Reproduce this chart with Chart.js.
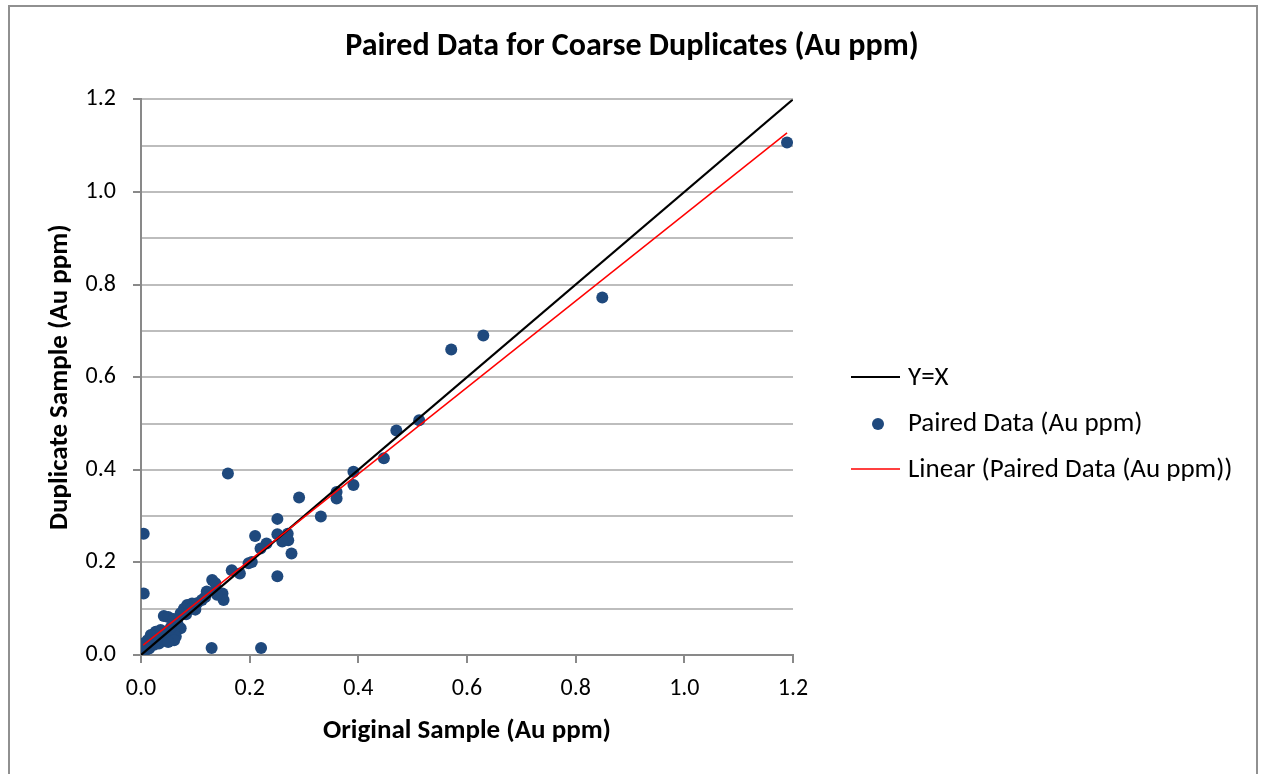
<!DOCTYPE html>
<html><head><meta charset="utf-8">
<script src="https://cdn.jsdelivr.net/npm/chart.js@4.4.1/dist/chart.umd.min.js"></script>
<style>
html,body{margin:0;padding:0;background:#fff;overflow:hidden;width:1264px;height:774px}
#wrap{position:absolute;left:0;top:0;width:1264px;height:774px}
#frame{position:absolute;left:8px;top:5px;width:1246px;height:820px;border:2px solid #909090;pointer-events:none}
</style></head><body>
<div id="wrap"><canvas id="c" width="1264" height="774"></canvas></div>
<div id="frame"></div>
<script>
// Original sample (x) and duplicate sample (y), Au ppm
const originalAu = [
  1.189, 0.849, 0.630, 0.571, 0.512, 0.470, 0.447, 0.391, 0.391, 0.360,
  0.360, 0.291, 0.331, 0.251, 0.160, 0.005, 0.005, 0.210, 0.251, 0.270,
  0.271, 0.260, 0.231, 0.220, 0.277, 0.204, 0.198, 0.167, 0.182, 0.251,
  0.130, 0.221, 0.131, 0.137, 0.121, 0.137, 0.150, 0.152, 0.112, 0.103,
  0.094, 0.085, 0.079, 0.073, 0.042, 0.050, 0.060, 0.067, 0.073, 0.061,
  0.052, 0.064, 0.061, 0.036, 0.027, 0.018, 0.042, 0.033, 0.024, 0.012,
  0.005, 0.015, 0.004, 0.005, 0.050, 0.030, 0.008, 0.092, 0.118, 0.055,
  0.045, 0.083, 0.100, 0.140
];
const duplicateAu = [
  1.107, 0.772, 0.690, 0.660, 0.507, 0.485, 0.425, 0.396, 0.367, 0.352,
  0.338, 0.340, 0.299, 0.294, 0.392, 0.262, 0.133, 0.257, 0.261, 0.262,
  0.248, 0.245, 0.241, 0.230, 0.219, 0.201, 0.198, 0.183, 0.176, 0.170,
  0.015, 0.015, 0.162, 0.155, 0.137, 0.137, 0.133, 0.119, 0.119, 0.112,
  0.111, 0.108, 0.100, 0.090, 0.084, 0.082, 0.078, 0.068, 0.058, 0.054,
  0.043, 0.040, 0.032, 0.054, 0.050, 0.043, 0.032, 0.025, 0.022, 0.032,
  0.025, 0.014, 0.011, 0.002, 0.028, 0.036, 0.018, 0.100, 0.125, 0.060,
  0.050, 0.088, 0.098, 0.130
];
const identityX = [0, 1.2];
const gridValues = [0, 0.1, 0.2, 0.3, 0.4, 0.5, 0.6, 0.7, 0.8, 0.9, 1.0, 1.1, 1.2];
const labelValues = [0, 0.2, 0.4, 0.6, 0.8, 1.0, 1.2];
const chartTitle = 'Paired Data for Coarse Duplicates (Au ppm)';
const xTitle = 'Original Sample (Au ppm)';
const yTitle = 'Duplicate Sample (Au ppm)';
const legendLabels = ['Y=X', 'Paired Data (Au ppm)', 'Linear (Paired Data (Au ppm))'];

const FONT = "Carlito, Calibri, Lato, sans-serif";
const pointColor = '#1F497D';
const gridColor = '#BDBDBD';
const axisColor = '#898989';

// points
const paired = originalAu.map((x, i) => ({x: x, y: duplicateAu[i]}));
// least squares trendline
const n = originalAu.length;
let sx = 0, sy = 0, sxx = 0, sxy = 0;
for (let i = 0; i < n; i++) { sx += originalAu[i]; sy += duplicateAu[i]; sxx += originalAu[i]*originalAu[i]; sxy += originalAu[i]*duplicateAu[i]; }
const slope = (n*sxy - sx*sy) / (n*sxx - sx*sx);
const intercept = (sy - slope*sx) / n;
const minX = Math.min(...originalAu), maxX = Math.max(...originalAu);
const trend = [minX, maxX].map(x => ({x: x, y: intercept + slope*x}));
const identity = identityX.map(v => ({x: v, y: v}));

const isLabel = v => labelValues.some(l => Math.abs(l - v) < 1e-6);

const legendPlugin = {
  id: 'customLegend',
  afterDraw(chart) {
    const ctx = chart.ctx;
    const ds = chart.data.datasets;
    const items = [ds[1], ds[2], ds[0]];
    const x0 = chart.chartArea.right + 58;
    const yMid = 423;
    ctx.save();
    ctx.font = '27px ' + FONT;
    ctx.textBaseline = 'middle';
    ctx.textAlign = 'left';
    items.forEach((d, i) => {
      const y = yMid + (i - 1) * 46;
      if (d.showLine) {
        ctx.strokeStyle = d.borderColor;
        ctx.lineWidth = d.borderWidth;
        ctx.beginPath(); ctx.moveTo(x0, y); ctx.lineTo(x0 + 49, y); ctx.stroke();
      } else {
        ctx.fillStyle = d.backgroundColor;
        ctx.beginPath(); ctx.arc(x0 + 27, y + 1, 6, 0, Math.PI*2); ctx.fill();
      }
      ctx.fillStyle = '#000';
      ctx.fillText(legendLabels[i], x0 + 57, y + 1);
    });
    ctx.restore();
  }
};

new Chart(document.getElementById('c'), {
  type: 'scatter',
  data: {
    datasets: [
      { label: legendLabels[2], data: trend, showLine: true, borderColor: '#FF0000', borderWidth: 1.5, pointRadius: 0, fill: false, order: 0 },
      { label: legendLabels[0], data: identity, showLine: true, borderColor: '#000000', borderWidth: 2.2, pointRadius: 0, fill: false, order: 1 },
      { label: legendLabels[1], data: paired, backgroundColor: pointColor, borderWidth: 0, pointRadius: 6, pointHoverRadius: 6, order: 2 }
    ]
  },
  options: {
    responsive: false,
    animation: false,
    events: [],
    layout: { padding: { left: 8, right: 8, top: 8, bottom: 8 } },
    plugins: {
      legend: { display: false },
      tooltip: { enabled: false },
      title: {
        display: true, text: chartTitle, color: '#000',
        font: { family: FONT, size: 32, weight: 'bold' },
        padding: { top: 20, bottom: 33 }
      }
    },
    scales: {
      x: {
        type: 'linear', min: 0, max: 1.2,
        afterBuildTicks: s => { s.ticks = labelValues.map(v => ({value: v})); },
        afterFit: s => { s.height = 111; },
        ticks: { color: '#000', font: { family: FONT, size: 24 }, padding: 12, autoSkip: false, maxRotation: 0,
                 callback: v => Number(v).toFixed(1) },
        grid: { drawOnChartArea: false, drawTicks: true, tickLength: 8, color: axisColor, lineWidth: 2 },
        border: { display: true, color: axisColor, width: 2 },
        title: { display: true, text: xTitle, color: '#000', font: { family: FONT, size: 27, weight: 'bold' }, padding: { top: 0, bottom: 19 } }
      },
      y: {
        type: 'linear', min: 0, max: 1.2, position: 'left',
        afterBuildTicks: s => { s.ticks = gridValues.map(v => ({value: v})); },
        afterFit: s => { s.width = 133; },
        ticks: { color: '#000', font: { family: FONT, size: 24 }, padding: 17, autoSkip: false,
                 callback: v => isLabel(v) ? Number(v).toFixed(1) : '' },
        grid: { drawOnChartArea: true, drawTicks: true, tickLength: 8, lineWidth: 2,
                color: c => (c.tick && Math.abs(c.tick.value) < 1e-6) ? axisColor : gridColor,
                tickColor: c => (c.tick && isLabel(c.tick.value)) ? axisColor : 'rgba(0,0,0,0)' },
        border: { display: true, color: axisColor, width: 2 },
        title: { display: true, text: yTitle, color: '#000', font: { family: FONT, size: 27, weight: 'bold' }, padding: { top: 36, bottom: 0 } }
      },
      yR: {
        type: 'linear', position: 'right', display: true, min: 0, max: 1.2,
        afterFit: s => { s.width = 463; },
        ticks: { display: false }, grid: { display: false }, border: { display: false }
      }
    }
  },
  plugins: [legendPlugin]
});
</script>
</body></html>
